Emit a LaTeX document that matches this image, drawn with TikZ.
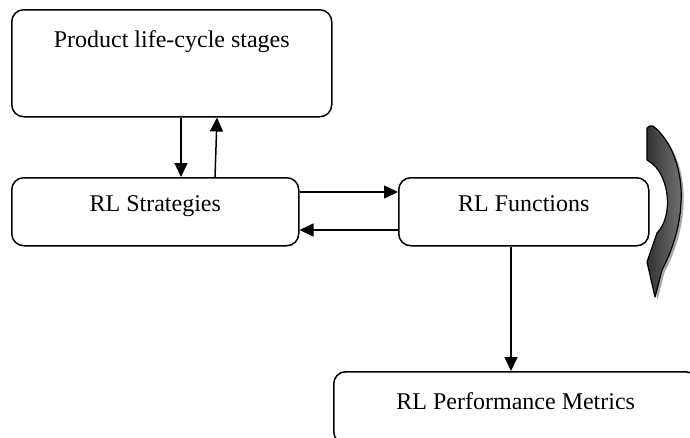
\documentclass[tikz,border=0pt]{standalone}
\usepackage{fontspec}
\setmainfont{Liberation Serif}
\usetikzlibrary{arrows.meta,calc}

\tikzset{
  stagebox/.style={draw, line width=1.5pt, rounded corners=12pt, inner xsep=0pt, inner ysep=0pt,
    anchor=north west, text height=34pt, text depth=34pt},
  flow/.style={line width=1.5pt, -{Triangle[length=14pt,width=13pt]}},
  cyclearrow/.style={draw=black, line width=1.2pt, line join=round,
    left color=black!80, right color=black!55},
}

\begin{document}
\begin{tikzpicture}[x=1pt,y=-1pt,font=\fontsize{24}{28}\selectfont]
  % frame in px of the 690x437 picture, y running down
  \useasboundingbox (0,0) rectangle (690,437);
  \clip (0,0) rectangle (690,437);
  \node[stagebox, minimum width=320pt, text height=38pt, text depth=69pt] (plc) at (11,9) {Product life-cycle stages};
  \node[stagebox, minimum width=287pt] (strat) at (11,177) {RL Strategies};
  \node[stagebox, minimum width=250pt] (func) at (398,177) {RL Functions};
  \node[stagebox, minimum width=364pt, text height=38pt] (metric) at (333,371) {RL Performance Metrics};
  % connectors
  \draw[flow] ($(plc.south west)+(170,0)$) -- ($(strat.north west)+(170,0)$);
  \draw[flow] ($(strat.north west)+(204,0)$) -- ($(plc.south west)+(206,0)$);
  \draw[flow] ($(strat.north east)+(0,15)$) -- ($(func.north west)+(0,15)$);
  \draw[flow] ($(func.north west)+(0,53)$) -- ($(strat.north east)+(0,53)$);
  \draw[flow] ($(func.south west)+(113,0)$) -- ($(metric.north west)+(178,0)$);
  % curved arrow beside RL Functions
  \fill[black!35, shift={(2.5,2.5)}] (647,128) .. controls (649,126) .. (653,126)
    .. controls (671,140) and (683,170) .. (681,202) .. controls (680,230) and (670,255) .. (662,270)
    -- (655,297) -- (647,262) -- (657,233) .. controls (674,216) and (670,172) .. (647,160) -- cycle;
  \path[cyclearrow] (647,128) .. controls (649,126) .. (653,126)
    .. controls (671,140) and (683,170) .. (681,202) .. controls (680,230) and (670,255) .. (662,270)
    -- (655,297) -- (647,262) -- (657,233) .. controls (674,216) and (670,172) .. (647,160) -- cycle;
\end{tikzpicture}
\end{document}
